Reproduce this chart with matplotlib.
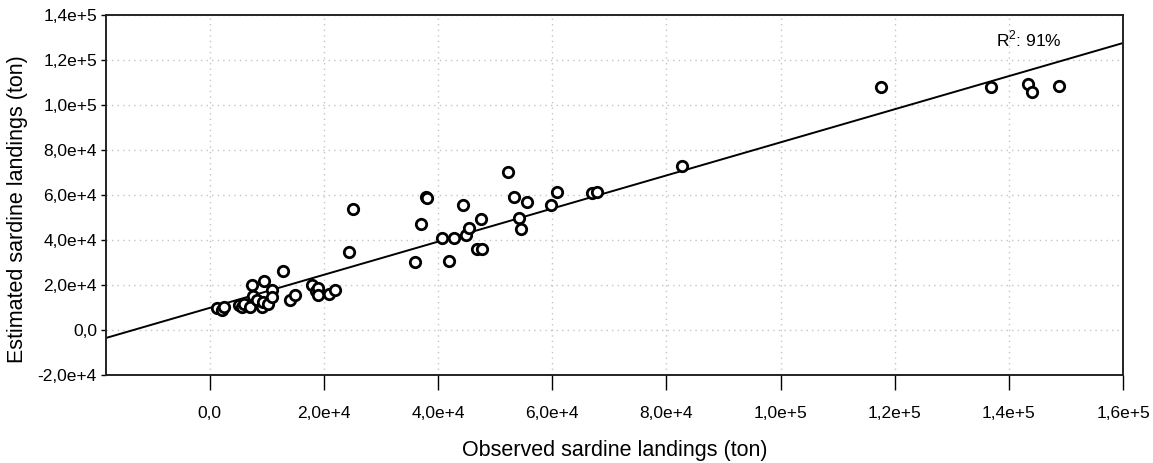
"""Observed vs estimated sardine landings, with fitted line."""
import matplotlib

matplotlib.use("Agg")
import matplotlib.pyplot as plt
from matplotlib.ticker import FuncFormatter, MultipleLocator

plt.rcParams["font.family"] = ["Liberation Sans", "DejaVu Sans"]
plt.rcParams["mathtext.fontset"] = "custom"
plt.rcParams["mathtext.rm"] = "Liberation Sans"

# observed (x) / estimated (y) landings, ton
observed = [
    1175, 2050, 2450, 5140, 5560, 5960, 7010, 7310, 7590, 8240,
    9060, 9240, 9470, 10220, 10820, 10820, 12850, 14020, 14900, 17930,
    18580, 18990, 18990, 20910, 21970, 24420, 25120, 35940, 36990, 37870,
    37980, 40600, 41950, 42770, 44410, 44880, 45460, 46750, 47630, 47510,
    52290, 53290, 54170, 54520, 55620, 59780, 60880, 66910, 67900, 82690,
    117570, 136910, 143340, 144040, 148830,
]
estimated = [
    9640, 8890, 10360, 11110, 10360, 11550, 10090, 20000, 15110, 13330,
    10360, 12580, 21910, 11550, 17780, 14800, 26350, 13330, 15780, 20000,
    17330, 18530, 15550, 16000, 17780, 34800, 53770, 30350, 46970, 59240,
    58530, 40750, 30660, 40750, 55550, 42220, 45200, 36000, 35860, 49330,
    70350, 58970, 49910, 44750, 56880, 55550, 61190, 60750, 61460, 73020,
    107860, 108120, 109190, 105630, 108570,
]

# fitted line
fit_intercept = 9855
fit_slope = 0.7356
r2_label = r"R$^{\mathrm{2}}$: 91%"

x_lim = (-18200, 160000)
y_lim = (-20000, 140000)


def sci_comma(v, pos=None):
    if abs(v) < 1e-9:
        return "0,0"
    s = f"{v:.1e}"
    mant, exp = s.split("e")
    return f"{mant.replace('.', ',')}e{int(exp):+d}"


def main() -> None:
    fig = plt.figure(figsize=(11.53, 4.63), dpi=100)
    ax = fig.add_axes([0.0919, 0.19, 0.8821, 0.7776])

    ax.set_xlim(*x_lim)
    ax.set_ylim(*y_lim)

    ax.xaxis.set_major_locator(MultipleLocator(20000))
    ax.yaxis.set_major_locator(MultipleLocator(20000))
    ax.xaxis.set_major_formatter(FuncFormatter(sci_comma))
    ax.yaxis.set_major_formatter(FuncFormatter(sci_comma))

    ax.grid(True, color="#c4c4c4", linestyle=(0, (1, 3)), linewidth=1.0)
    ax.set_axisbelow(True)

    xs = [x_lim[0], x_lim[1]]
    ax.plot(xs, [fit_intercept + fit_slope * v for v in xs], color="black", lw=1.4, zorder=2)
    ax.plot(observed, estimated, linestyle="none", marker="o", ms=7.5, mfc="white",
            mec="black", mew=2.0, zorder=3)

    ax.text(0.94, 0.912, r2_label, transform=ax.transAxes, ha="right", va="baseline", fontsize=12.5)

    for s in ax.spines.values():
        s.set_linewidth(1.4)
        s.set_color("#222222")

    ax.tick_params(axis="x", direction="out", length=11, width=1.0, pad=11, labelsize=12.5)
    ax.tick_params(axis="y", direction="out", length=3.5, width=1.0, pad=3, labelsize=12.5)

    # no tick at the left edge of the x axis
    ax.set_xticks([t for t in range(0, 160001, 20000)])

    ax.set_xlabel("Observed sardine landings (ton)", fontsize=15.5, labelpad=14)
    ax.set_ylabel("Estimated sardine landings (ton)", fontsize=15.5)
    ax.yaxis.set_label_coords(-0.077, 0.46)

    fig.savefig("out.png", dpi=100)
    plt.close(fig)


if __name__ == "__main__":
    main()
